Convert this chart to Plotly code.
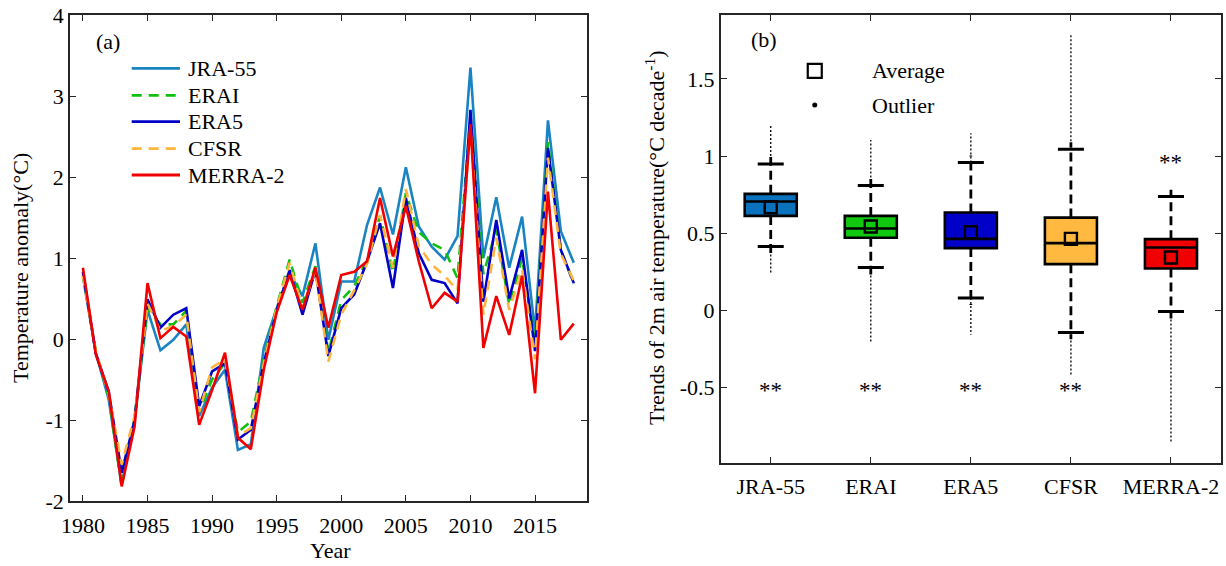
import plotly.graph_objects as go

# ---------------- data ----------------
years = list(range(1980, 2019))
jra55 = [0.77, -0.17, -0.75, -1.80, -1.00, 0.36, -0.14, -0.01, 0.18, -0.95,
         -0.60, -0.38, -1.37, -1.30, -0.11, 0.38, 0.82, 0.53, 1.18, -0.01,
         0.71, 0.71, 1.41, 1.87, 1.29, 2.12, 1.39, 1.14, 0.98, 1.27,
         3.35, 1.00, 1.75, 0.88, 1.51, 0.09, 2.70, 1.33, 0.94]
erai = [0.80, -0.15, -0.72, -1.82, -0.98, 0.38, 0.18, 0.18, 0.35, -0.90,
        -0.50, -0.30, -1.15, -1.02, -0.25, 0.40, 0.98, 0.45, 0.90, -0.17,
        0.48, 0.65, 0.98, 1.52, 0.82, 1.80, 1.32, 1.18, 1.10, 0.75,
        2.75, 0.80, 1.35, 0.42, 1.00, -0.05, 2.43, 1.10, 0.68]
era5 = [0.83, -0.18, -0.65, -1.65, -1.00, 0.49, 0.14, 0.30, 0.38, -0.83,
        -0.40, -0.30, -1.24, -1.12, -0.30, 0.35, 0.85, 0.30, 0.85, -0.21,
        0.38, 0.55, 0.96, 1.43, 0.63, 1.74, 1.06, 0.73, 0.69, 0.44,
        2.83, 0.46, 1.47, 0.50, 1.10, -0.15, 2.36, 1.10, 0.69]
cfsr = [0.78, -0.15, -0.68, -1.55, -0.95, 0.44, 0.10, 0.16, 0.30, -0.90,
        -0.35, -0.25, -1.20, -1.10, -0.30, 0.38, 0.94, 0.38, 0.85, -0.28,
        0.30, 0.60, 0.93, 1.53, 0.88, 1.85, 1.15, 0.92, 0.78, 0.60,
        2.60, 0.30, 1.25, 0.36, 0.86, -0.25, 2.24, 1.05, 0.72]
merra2 = [0.88, -0.19, -0.65, -1.82, -1.08, 0.69, 0.01, 0.15, 0.03, -1.06,
          -0.63, -0.17, -1.22, -1.36, -0.38, 0.33, 0.79, 0.36, 0.88, 0.14,
          0.79, 0.83, 0.96, 1.74, 1.02, 1.64, 0.96, 0.38, 0.57, 0.46,
          2.65, -0.11, 0.53, 0.05, 0.78, -0.67, 1.82, -0.01, 0.19]

series_names = ["JRA-55", "ERAI", "ERA5", "CFSR", "MERRA-2"]
series_values = [jra55, erai, era5, cfsr, merra2]
series_colors = ["#1a84c2", "#10c010", "#0000c8", "#ffb43c", "#f00000"]
series_dash = ["solid", "10px,7px", "solid", "10px,7px", "solid"]

x_ticks = [1980, 1985, 1990, 1995, 2000, 2005, 2010, 2015]
y_ticks_a = [-2, -1, 0, 1, 2, 3, 4]

# box statistics (panel b)
box_names = ["JRA-55", "ERAI", "ERA5", "CFSR", "MERRA-2"]
box_q1 = [0.612, 0.470, 0.403, 0.299, 0.271]
box_median = [0.705, 0.530, 0.463, 0.435, 0.407]
box_q3 = [0.755, 0.612, 0.634, 0.601, 0.461]
box_mean = [0.668, 0.543, 0.506, 0.463, 0.342]
whisker_low = [0.413, 0.277, 0.079, -0.144, -0.009]
whisker_high = [0.949, 0.809, 0.958, 1.044, 0.737]
outlier_min = [0.236, -0.208, -0.159, -0.429, -0.861]
outlier_max = [1.195, 1.105, 1.148, 1.796, 0.770]
box_colors = ["#0a72bd", "#10c810", "#0000c8", "#ffb940", "#f00000"]
sig_marks = ["**", "**", "**", "**", "**"]
sig_y = [-0.52, -0.52, -0.52, -0.52, 0.955]
y_ticks_b = [-0.5, 0, 0.5, 1, 1.5]

W, H = 1226, 566
FONT = "Liberation Serif, Times New Roman, serif"
FS = 22
AX = "#262626"

fig = go.Figure()

# ---------------- panel (a) ----------------
for nm, vals, col, dsh in zip(series_names, series_values, series_colors, series_dash):
    fig.add_trace(go.Scatter(x=years, y=vals, mode="lines", name=nm,
                             line=dict(color=col, width=2.6, dash=dsh),
                             xaxis="x", yaxis="y", showlegend=False))

# manual legend for panel (a)
leg_rows = [68.3, 95.3, 121.7, 148.7, 175.0]
shapes = []
annotations = []
for nm, col, dsh, ry in zip(series_names, series_colors, series_dash, leg_rows):
    shapes.append(dict(type="line", xref="paper", yref="paper",
                       x0=131.7 / W, x1=180.0 / W, y0=1 - ry / H, y1=1 - ry / H,
                       line=dict(color=col, width=2.8, dash=dsh)))
    annotations.append(dict(xref="paper", yref="paper", x=186 / W, y=1 - ry / H,
                            text=nm, showarrow=False, xanchor="left", yanchor="middle",
                            font=dict(family=FONT, size=FS, color="black")))

# ---------------- panel (b) ----------------
pos = list(range(1, len(box_names) + 1))
cap_half = 0.13
ext = 0.045
for i, p in enumerate(pos):
    # whiskers (dashed)
    fig.add_trace(go.Scatter(x=[p, p], y=[box_q3[i], whisker_high[i] + ext], mode="lines",
                             line=dict(color="black", width=2.8, dash="9px,5px"),
                             xaxis="x2", yaxis="y2", showlegend=False, hoverinfo="skip"))
    fig.add_trace(go.Scatter(x=[p, p], y=[box_q1[i], whisker_low[i] - ext], mode="lines",
                             line=dict(color="black", width=2.8, dash="9px,5px"),
                             xaxis="x2", yaxis="y2", showlegend=False, hoverinfo="skip"))
    # outliers (dense dots)
    fig.add_trace(go.Scatter(x=[p, p], y=[whisker_high[i], outlier_max[i]], mode="lines",
                             line=dict(color="black", width=1.3, dash="2px,2px"),
                             xaxis="x2", yaxis="y2", showlegend=False, hoverinfo="skip"))
    fig.add_trace(go.Scatter(x=[p, p], y=[whisker_low[i], outlier_min[i]], mode="lines",
                             line=dict(color="black", width=1.3, dash="2px,2px"),
                             xaxis="x2", yaxis="y2", showlegend=False, hoverinfo="skip"))
    # caps
    for cy in (whisker_low[i], whisker_high[i]):
        fig.add_trace(go.Scatter(x=[p - cap_half, p + cap_half], y=[cy, cy], mode="lines",
                                 line=dict(color="black", width=3),
                                 xaxis="x2", yaxis="y2", showlegend=False, hoverinfo="skip"))
    # box
    fig.add_trace(go.Box(x=[p], q1=[box_q1[i]], median=[box_median[i]], q3=[box_q3[i]],
                         lowerfence=[box_q1[i]], upperfence=[box_q3[i]],
                         width=0.52, whiskerwidth=0, fillcolor=box_colors[i],
                         line=dict(color="black", width=2.6),
                         xaxis="x2", yaxis="y2", showlegend=False, hoverinfo="skip"))

# mean squares
fig.add_trace(go.Scatter(x=pos, y=box_mean, mode="markers",
                         marker=dict(symbol="square-open", size=12, color="black",
                                     line=dict(width=2.4, color="black")),
                         xaxis="x2", yaxis="y2", showlegend=False))

# significance marks
for p, t, sy in zip(pos, sig_marks, sig_y):
    annotations.append(dict(xref="x2", yref="y2", x=p, y=sy, text=t, showarrow=False,
                            xanchor="center", yanchor="middle",
                            font=dict(family=FONT, size=23, color="black")))

# legend for panel (b)
fig.add_trace(go.Scatter(x=[1.44], y=[1.552], mode="markers",
                         marker=dict(symbol="square-open", size=14, color="black",
                                     line=dict(width=2.2, color="black")),
                         xaxis="x2", yaxis="y2", showlegend=False))
fig.add_trace(go.Scatter(x=[1.44], y=[1.331], mode="markers",
                         marker=dict(symbol="circle", size=5, color="black"),
                         xaxis="x2", yaxis="y2", showlegend=False))
annotations.append(dict(xref="x2", yref="y2", x=1.99, y=1.552, text="Average",
                        showarrow=False, xanchor="left", yanchor="middle",
                        font=dict(family=FONT, size=FS, color="black")))
annotations.append(dict(xref="x2", yref="y2", x=1.99, y=1.331, text="Outlier",
                        showarrow=False, xanchor="left", yanchor="middle",
                        font=dict(family=FONT, size=FS, color="black")))

# panel labels and axis titles
def lbl(x, y, text, angle=0):
    return dict(xref="paper", yref="paper", x=x / W, y=1 - y / H, text=text,
                showarrow=False, textangle=angle, xanchor="center", yanchor="middle",
                font=dict(family=FONT, size=FS, color="black"))

annotations += [
    lbl(108, 42, "(a)"),
    lbl(764, 39, "(b)"),
    lbl(330, 550, "Year"),
    lbl(20, 268, "Temperature anomaly(°C)", -90),
    lbl(655, 238, "Trends of 2m air temperature(°C decade<sup>-1</sup>)", -90),
]

axis_common = dict(showline=True, linecolor=AX, linewidth=1.6, mirror="ticks",
                   ticks="inside", ticklen=6, tickwidth=1.4, tickcolor=AX,
                   showgrid=False, zeroline=False, automargin=False,
                   tickfont=dict(family=FONT, size=FS, color="black"))

fig.update_layout(
    width=W, height=H,
    margin=dict(l=0, r=0, t=0, b=0, pad=0, autoexpand=False),
    paper_bgcolor="white", plot_bgcolor="white",
    showlegend=False,
    xaxis=dict(domain=[70 / W, 586.7 / W], range=[1979, 2019], anchor="y",
               tickvals=x_ticks, ticktext=[str(v) for v in x_ticks],
               ticklabelstandoff=4, **axis_common),
    yaxis=dict(domain=[1 - 501 / H, 1 - 15 / H], range=[-2, 4], anchor="x",
               tickvals=y_ticks_a, ticktext=[str(v) for v in y_ticks_a], **axis_common),
    xaxis2=dict(domain=[720.7 / W, 1221 / W], range=[0.5, 5.5], anchor="y2",
                tickvals=pos, ticktext=box_names, ticklabelstandoff=3, **axis_common),
    yaxis2=dict(domain=[1 - 462.7 / H, 1 - 15 / H], range=[-0.989, 1.915], anchor="x2",
                tickvals=y_ticks_b, ticktext=["-0.5", "0", "0.5", "1", "1.5"], **axis_common),
    shapes=shapes,
    annotations=annotations,
)

fig.write_html("out.html")
